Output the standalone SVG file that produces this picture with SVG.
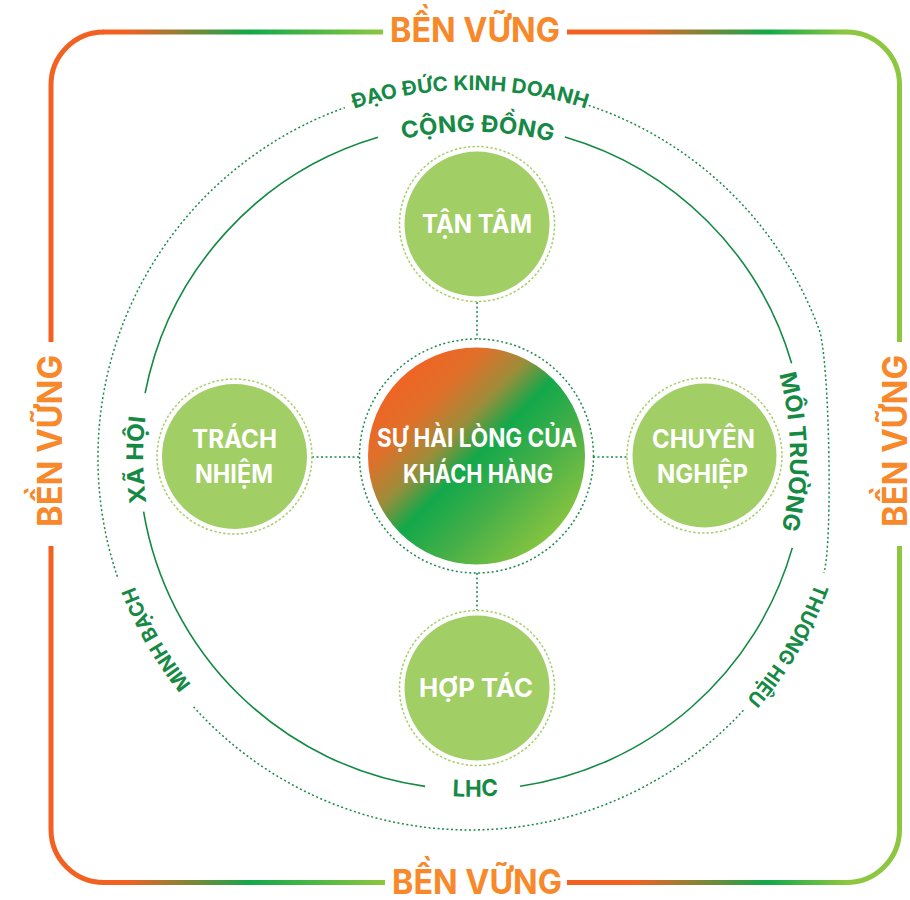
<svg xmlns="http://www.w3.org/2000/svg" xmlns:xlink="http://www.w3.org/1999/xlink" width="910" height="900" viewBox="0 0 910 900">
<style>
.ff{font-family:Inter,"Liberation Sans","Noto Sans",sans-serif;font-weight:700}
.ben{font-size:34px;fill:#f7892b;text-anchor:middle}
.lbl{fill:#168a45;text-anchor:middle}
.s23{font-size:23px}
.s20{font-size:20px}
.nt{fill:#ffffff;font-size:25px;text-anchor:middle}
.ring{fill:none;stroke:#a6d06b;stroke-width:1.5;stroke-dasharray:2.5 2}
.dot{fill:none;stroke:#1a8a4a;stroke-width:1.5;stroke-dasharray:2 2.5}
.solid{fill:none;stroke:#138a43;stroke-width:1.6}
.fill{fill:#a2ce66}
.fr{fill:none;stroke-width:5}
</style>
<defs>
<linearGradient id="gTL" gradientUnits="userSpaceOnUse" x1="104" y1="0" x2="383" y2="0">
<stop offset="0" stop-color="#f26122"/><stop offset="0.08" stop-color="#f26122"/><stop offset="0.52" stop-color="#12a84b"/><stop offset="1" stop-color="#8dc63f"/>
</linearGradient>
<linearGradient id="gTR" gradientUnits="userSpaceOnUse" x1="567" y1="0" x2="846" y2="0">
<stop offset="0" stop-color="#f26122"/><stop offset="0.24" stop-color="#f26122"/><stop offset="0.72" stop-color="#12a84b"/><stop offset="1" stop-color="#8dc63f"/>
</linearGradient>
<linearGradient id="gBL" gradientUnits="userSpaceOnUse" x1="104" y1="0" x2="385" y2="0">
<stop offset="0" stop-color="#f26122"/><stop offset="0.08" stop-color="#f26122"/><stop offset="0.52" stop-color="#12a84b"/><stop offset="1" stop-color="#8dc63f"/>
</linearGradient>
<linearGradient id="gBR" gradientUnits="userSpaceOnUse" x1="567" y1="0" x2="846" y2="0">
<stop offset="0" stop-color="#f26122"/><stop offset="0.24" stop-color="#f26122"/><stop offset="0.72" stop-color="#12a84b"/><stop offset="1" stop-color="#8dc63f"/>
</linearGradient>
<linearGradient id="gC" x1="0.12" y1="0.12" x2="0.88" y2="0.88">
<stop offset="0" stop-color="#f26122"/><stop offset="0.2" stop-color="#e0702a"/><stop offset="0.36" stop-color="#9c8d3a"/><stop offset="0.5" stop-color="#12a84b"/><stop offset="0.72" stop-color="#49b048"/><stop offset="1" stop-color="#8dc63f"/>
</linearGradient>
<path id="pCong" d="M242.2,226.9 A325,325 0 0 1 701.8,226.9"/>
<path id="pXa" d="M239.4,689.3 A329,329 0 0 1 239.4,224.1"/>
<path id="pMoi" d="M696.9,231.8 A318,318 0 0 1 696.9,681.6"/>
<path id="pLhc" d="M231.6,697.1 A340,340 0 0 0 712.4,697.1"/>
<path id="pDao" d="M209.8,197.8 A368,368 0 0 1 730.2,197.8"/>
<path id="pMinh" d="M377.1,804.8 A359,359 0 0 1 123.2,365.1"/>
<path id="pThuong" d="M824.5,363.0 A367,367 0 0 1 565.0,812.5"/>
</defs>

<g id="frame">
<path class="fr" stroke="#f26122" d="M104,32 A53,53 0 0 0 51,85 V342 M51,546 V829.5 A53,53 0 0 0 104,882.5"/>
<path class="fr" stroke="#8dc63f" d="M846,32 A53,53 0 0 1 899.5,85 V342 M899.5,546 V829.5 A53,53 0 0 1 846.5,882.5"/>
<line class="fr" stroke="url(#gTL)" x1="103" y1="32" x2="383" y2="32"/>
<line class="fr" stroke="url(#gTR)" x1="567" y1="32" x2="847" y2="32"/>
<line class="fr" stroke="url(#gBL)" x1="103" y1="882.5" x2="385" y2="882.5"/>
<line class="fr" stroke="url(#gBR)" x1="567" y1="882.5" x2="847" y2="882.5"/>
<text class="ff ben" x="475" y="42" textLength="170" lengthAdjust="spacingAndGlyphs">BỀN VỮNG</text>
<text class="ff ben" x="477" y="894" textLength="170" lengthAdjust="spacingAndGlyphs">BỀN VỮNG</text>
<text class="ff ben" transform="translate(62,441) rotate(-90)" textLength="172" lengthAdjust="spacingAndGlyphs">BỀN VỮNG</text>
<text class="ff ben" transform="translate(906.5,441) rotate(-90)" textLength="172" lengthAdjust="spacingAndGlyphs">BỀN VỮNG</text>
</g>

<g id="rings">
<path class="dot" d="M588.7,105.4 A372,372 0 0 1 819.1,329.5 C829.5,357.6 833,544.5 823.8,573.0 M743.4,710.3 A372,372 0 0 1 193.6,706.9 M117.4,576.7 A372,372 0 0 1 344.9,107.6"/>
<path class="solid" d="M564.9,136.9 A333,333 0 0 1 791.6,363.2 M792.3,547.9 A333,333 0 0 1 520.1,786.2 M425.1,786.4 A333,333 0 0 1 143.6,511.6 M145.1,393.2 A333,333 0 0 1 378.0,137.3"/>
<text class="ff lbl s20"><textPath xlink:href="#pDao" href="#pDao" startOffset="50%" textLength="236" lengthAdjust="spacingAndGlyphs">ĐẠO ĐỨC KINH DOANH</textPath></text>
<text class="ff lbl s20"><textPath xlink:href="#pMinh" href="#pMinh" startOffset="50%" textLength="114" lengthAdjust="spacingAndGlyphs">MINH BẠCH</textPath></text>
<text class="ff lbl s20"><textPath xlink:href="#pThuong" href="#pThuong" startOffset="50.6%" textLength="136" lengthAdjust="spacingAndGlyphs">THƯƠNG HIỆU</textPath></text>
<text class="ff lbl s23"><textPath xlink:href="#pCong" href="#pCong" startOffset="51.1%" textLength="151" lengthAdjust="spacingAndGlyphs">CỘNG ĐỒNG</textPath></text>
<text class="ff lbl s23"><textPath xlink:href="#pXa" href="#pXa" startOffset="49.4%" textLength="86" lengthAdjust="spacingAndGlyphs">XÃ HỘI</textPath></text>
<text class="ff lbl s23"><textPath xlink:href="#pMoi" href="#pMoi" startOffset="49%" textLength="157" lengthAdjust="spacingAndGlyphs">MÔI TRƯỜNG</textPath></text>
<text class="ff lbl s23"><textPath xlink:href="#pLhc" href="#pLhc" startOffset="50.6%" textLength="46" lengthAdjust="spacingAndGlyphs">LHC</textPath></text>
</g>

<g id="connectors">
<line class="dot" x1="477" y1="302" x2="477" y2="339"/>
<line class="dot" x1="477" y1="573" x2="477" y2="610"/>
<line class="dot" x1="312" y1="457" x2="360" y2="457"/>
<line class="dot" x1="593" y1="457" x2="627" y2="457"/>
</g>

<g id="center">
<circle cx="476.5" cy="456" r="117" class="dot"/>
<circle cx="476.5" cy="456" r="108.5" fill="url(#gC)"/>
<text class="ff nt" x="477" y="447" textLength="200" lengthAdjust="spacingAndGlyphs">SỰ HÀI LÒNG CỦA</text>
<text class="ff nt" x="478" y="483" textLength="150" lengthAdjust="spacingAndGlyphs">KHÁCH HÀNG</text>
</g>

<g id="tantam">
<circle cx="477" cy="224" r="77.5" class="ring"/>
<circle cx="477" cy="224" r="72.5" class="fill"/>
<text class="ff nt" x="477" y="233" textLength="110" lengthAdjust="spacingAndGlyphs">TẬN TÂM</text>
</g>

<g id="trachnhiem">
<circle cx="234.5" cy="456.5" r="77.5" class="ring"/>
<circle cx="234.5" cy="456.5" r="72.5" class="fill"/>
<text class="ff nt" x="234.5" y="448" textLength="85" lengthAdjust="spacingAndGlyphs">TRÁCH</text>
<text class="ff nt" x="234" y="483" textLength="78" lengthAdjust="spacingAndGlyphs">NHIỆM</text>
</g>

<g id="chuyennghiep">
<circle cx="704.5" cy="455.5" r="77.5" class="ring"/>
<circle cx="704.5" cy="455.5" r="72" class="fill"/>
<text class="ff nt" x="703.5" y="448" textLength="103" lengthAdjust="spacingAndGlyphs">CHUYÊN</text>
<text class="ff nt" x="702.5" y="483" textLength="91" lengthAdjust="spacingAndGlyphs">NGHIỆP</text>
</g>

<g id="hoptac">
<circle cx="477" cy="688" r="77.5" class="ring"/>
<circle cx="477" cy="688" r="72.5" class="fill"/>
<text class="ff nt" x="476" y="697" textLength="114" lengthAdjust="spacingAndGlyphs">HỢP TÁC</text>
</g>
</svg>
